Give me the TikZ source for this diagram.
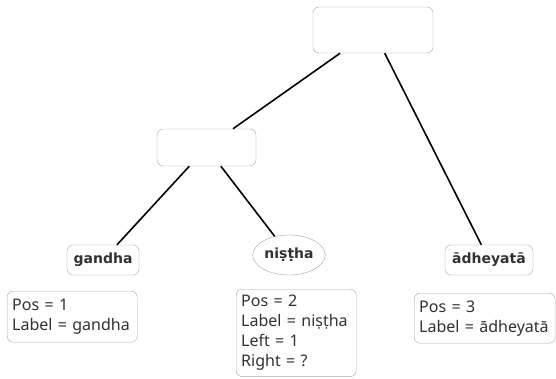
\documentclass[tikz,border=0pt]{standalone}
\usepackage{fontspec}
\setmainfont{Noto Sans}
\newfontfamily\wordfont{DejaVu Sans}
\usetikzlibrary{shapes.geometric}
\definecolor{BoxGray}{RGB}{165,165,165}
\definecolor{WordInk}{RGB}{50,50,50}
\tikzset{
  treebox/.style={draw=BoxGray,rounded corners=6pt,fill=white,thin},
  emptybox/.style={treebox,minimum width=#1},
  wordbox/.style={treebox,font=\wordfont\bfseries\fontsize{14}{16}\selectfont,
    text=WordInk,minimum height=30pt,inner xsep=5pt},
  wordoval/.style={ellipse,draw=BoxGray,fill=white,thin,text=WordInk,
    font=\wordfont\bfseries\fontsize{14}{16}\selectfont,minimum width=69pt,
    minimum height=40pt,inner sep=1pt},
  infobox/.style={treebox,anchor=north west,align=left,text=WordInk,
    font=\fontsize{16}{20}\selectfont,inner xsep=5pt,inner ysep=6pt},
  edge/.style={line width=1.6pt,black}
}

\begin{document}
\begin{tikzpicture}[x=1pt,y=-1pt]
  \useasboundingbox (0,0) rectangle (556,379);

  \node[emptybox=120pt,minimum height=46pt] (root) at (373,30) {};
  \node[emptybox=99pt,minimum height=37pt] (mid) at (206.5,147.5) {};
  \node[wordbox,minimum width=72pt] (gandha) at (103,260) {gandha};
  \node[wordoval] (nistha) at (289,255) {niṣṭha};
  \node[wordbox,minimum width=88pt] (adheyata) at (489,260) {ādheyatā};

  \node[infobox,text width=120pt,minimum height=51pt] (info1) at (7,291)
    {Pos = 1\\Label = gandha};
  \node[infobox,text width=110pt,minimum height=86pt] (info2) at (236,289)
    {Pos = 2\\Label = niṣṭha\\Left = 1\\Right = ?};
  \node[infobox,text width=131pt,minimum height=50pt] (info3) at (414,293)
    {Pos = 3\\Label = ādheyatā};

  \draw[edge] (root) -- (mid);
  \draw[edge] (root) -- (adheyata);
  \draw[edge] (mid) -- (gandha);
  \draw[edge] (mid) -- (nistha);
\end{tikzpicture}
\end{document}
